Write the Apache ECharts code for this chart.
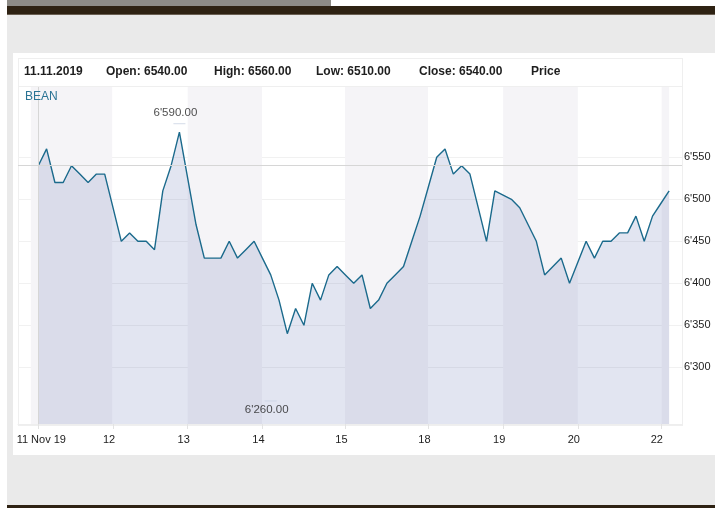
<!DOCTYPE html>
<html>
<head>
<meta charset="utf-8">
<script src="https://cdn.jsdelivr.net/npm/echarts@6/dist/echarts.min.js"></script>
<style>
  html, body { margin: 0; padding: 0; width: 715px; height: 508px; background: #ffffff; overflow: hidden; }
  .abs { position: absolute; }
  #chart { position: absolute; left: 0; top: 0; width: 715px; height: 508px; }
</style>
</head>
<body>
<div class="abs" style="left:7px;top:0;width:324px;height:6px;background:#8d8b87"></div>
<div class="abs" style="left:7px;top:6px;width:708px;height:8px;background:#2e2213;border-bottom:1px solid #6a5f52"></div>
<div class="abs" style="left:7px;top:15px;width:708px;height:490px;background:#eaeaea"></div>
<div class="abs" style="left:7px;top:505px;width:708px;height:3px;background:#2e2213"></div>
<div class="abs" style="left:13px;top:53px;width:702px;height:402px;background:#ffffff"></div>
<div class="abs" style="left:18px;top:58px;width:663px;height:366px;border:1px solid #efefef"></div>
<div class="abs" style="left:18px;top:86px;width:664px;height:1px;background:#efefef"></div>
<div id="chart"></div>
<script>
// ---- data ----
const headerDate = '11.11.2019';
const headerOpen = 6540;
const headerHigh = 6560;
const headerLow = 6510;
const headerClose = 6540;
const seriesName = 'BEAN';

const closes = [
  6540, 6560, 6520, 6520, 6540, 6530, 6520, 6530, 6530, 6490,
  6450, 6460, 6450, 6450, 6440, 6510, 6540, 6580, 6525, 6470,
  6430, 6430, 6430, 6450, 6430, 6440, 6450, 6430, 6410, 6380,
  6340, 6370, 6350, 6400, 6380, 6410, 6420, 6410, 6400, 6410,
  6370, 6380, 6400, 6410, 6420, 6450, 6480, 6515, 6550, 6560,
  6530, 6540, 6530, 6490, 6450, 6510, 6505, 6500, 6490, 6470,
  6450, 6410, 6420, 6430, 6400, 6425, 6450, 6430, 6450, 6450,
  6460, 6460, 6480, 6450, 6480, 6495, 6510
];
const dayLabels = ['11 Nov 19', '12', '13', '14', '15', '18', '19', '20', '22'];
const dayStartIdx = [0, 9, 18, 27, 37, 47, 56, 65, 75];
const bandEdges = [-0.9, 8.9, 18, 26.95, 36.95, 46.95, 56, 65, 75.1];
const yTicks = [6300, 6350, 6400, 6450, 6500, 6550];
const rangeHigh = { idx: 17, value: 6590 };
const rangeLow = { idx: 28, value: 6260 };
const refLevel = 6540;

// ---- helpers ----
function fmtThousands(v, dec) {
  const s = dec ? v.toFixed(dec) : String(Math.round(v));
  const parts = s.split('.');
  parts[0] = parts[0].replace(/\B(?=(\d{3})+(?!\d))/g, "'");
  return parts.join('.');
}
const FONT = 'Liberation Sans, Arial, Helvetica, sans-serif';

const lineData = closes.map((v, i) => [i, v]);
const bandAreas = [];
for (let k = 0; k < bandEdges.length; k += 2) {
  const a = bandEdges[k];
  const b = k + 1 < bandEdges.length ? bandEdges[k + 1] : 'max';
  bandAreas.push([{ xAxis: a }, { xAxis: b }]);
}

const chart = echarts.init(document.getElementById('chart'), null, { renderer: 'canvas' });

const headerItems = [
  { text: headerDate, x: 24 },
  { text: 'Open: ' + headerOpen.toFixed(2), x: 106 },
  { text: 'High: ' + headerHigh.toFixed(2), x: 214 },
  { text: 'Low: ' + headerLow.toFixed(2), x: 316 },
  { text: 'Close: ' + headerClose.toFixed(2), x: 419 },
  { text: 'Price', x: 531 }
];

const option = {
  backgroundColor: 'transparent',
  animation: false,
  textStyle: { fontFamily: FONT },
  graphic: headerItems.map(h => ({
    type: 'text', x: h.x, y: 72, z: 100,
    style: { text: h.text, fill: '#1e1e1e', font: 'bold 12px ' + FONT, verticalAlign: 'middle' }
  })).concat([{
    type: 'text', x: 25, y: 97, z: 100,
    style: { text: seriesName, fill: '#2a7394', font: '12px ' + FONT, verticalAlign: 'middle' }
  }]),
  grid: { left: 18, right: 33, top: 87, bottom: 84, containLabel: false },
  xAxis: {
    type: 'value',
    min: -2.446,
    max: 77.55,
    axisLine: { show: true, lineStyle: { color: '#eeeeee' } },
    axisTick: { show: true, length: 5, customValues: dayStartIdx, lineStyle: { color: '#e3e3e3' } },
    splitLine: { show: false },
    axisLabel: {
      customValues: dayStartIdx,
      margin: 10,
      color: '#222',
      fontSize: 11,
      fontFamily: FONT,
      formatter: function (v) {
        const k = dayStartIdx.indexOf(Math.round(v));
        if (k < 0) return '';
        return k === 0 ? '{a|' + dayLabels[k] + '}' : '{b|' + dayLabels[k] + '}';
      },
      rich: {
        a: { fontSize: 11, color: '#222', fontFamily: FONT, padding: [0, 0, 0, 6] },
        b: { fontSize: 11, color: '#222', fontFamily: FONT, padding: [0, 8, 0, 0] }
      }
    }
  },
  yAxis: {
    type: 'value',
    position: 'right',
    min: 6232.5,
    max: 6633.7,
    axisLine: { show: false },
    axisTick: { show: false, customValues: yTicks },
    splitLine: { show: true, lineStyle: { color: '#f1f1f1' } },
    axisLabel: {
      customValues: yTicks,
      margin: 2,
      color: '#222',
      fontSize: 11,
      fontFamily: FONT,
      formatter: v => fmtThousands(v)
    }
  },
  series: [
    {
      name: 'fill',
      type: 'line',
      data: lineData,
      symbol: 'none',
      silent: true,
      z: 2,
      lineStyle: { width: 0, opacity: 0 },
      areaStyle: { color: 'rgba(110,125,185,0.2)', opacity: 1, origin: 'start' },
      markArea: {
        silent: true,
        itemStyle: { color: '#f5f4f7', opacity: 1 },
        data: bandAreas
      }
    },
    {
      name: seriesName,
      type: 'line',
      data: lineData,
      symbol: 'none',
      z: 4,
      lineStyle: { color: '#1b6a8c', width: 1.4 },
      markLine: {
        silent: true,
        symbol: 'none',
        label: { show: false },
        lineStyle: { color: '#d6d6d6', width: 1, type: 'solid' },
        data: [{ yAxis: refLevel }, { xAxis: 0 }]
      }
    },
    {
      name: 'range',
      type: 'scatter',
      silent: true,
      z: 5,
      symbol: 'rect',
      symbolSize: [12, 1],
      itemStyle: { color: '#c9d2e2' },
      data: [
        { value: [rangeHigh.idx, rangeHigh.value], label: { position: 'top', distance: 4 } },
        { value: [rangeLow.idx, rangeLow.value], label: { position: 'bottom', distance: 2 } }
      ],
      label: {
        show: true,
        color: '#222',
        fontSize: 11.5,
        fontFamily: FONT,
        offset: [-4, 0],
        formatter: p => fmtThousands(p.value[1], 2)
      }
    }
  ]
};
chart.setOption(option);
</script>
</body>
</html>
